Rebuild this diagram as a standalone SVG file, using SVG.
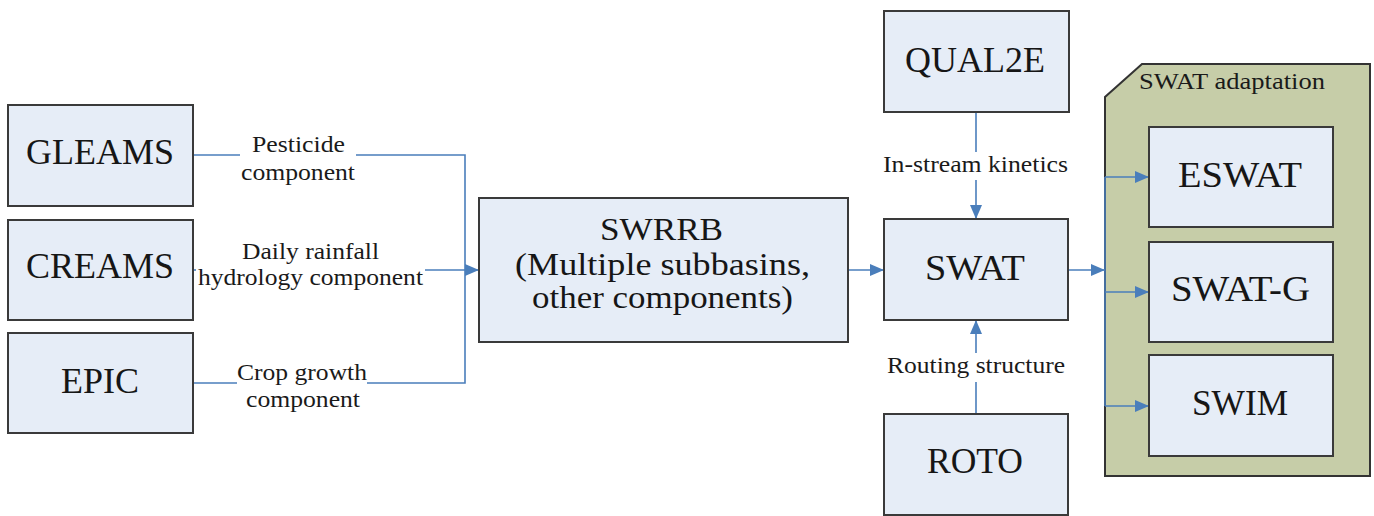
<svg xmlns="http://www.w3.org/2000/svg" width="1374" height="516" viewBox="0 0 1374 516">
  <style>
    .box { fill: #e6edf7; stroke: #3a3a3a; stroke-width: 2; }
    .frame { fill: #c6cda8; stroke: #333333; stroke-width: 2; }
    text { font-family: 'Liberation Serif', 'Times New Roman', Times, serif; }
    .big { font-size: 35px; fill: #161616; }
    .mid { font-size: 31px; fill: #161616; }
    .lbl { font-size: 24px; fill: #1a1a1a; }
    .wire { fill: none; stroke: #4a7ebb; stroke-width: 1.6; }
    .arrow { fill: none; stroke: #4a7ebb; stroke-width: 1.6; marker-end: url(#tip); }
  </style>
  <defs>
    <marker id="tip" markerUnits="userSpaceOnUse" markerWidth="15" markerHeight="14" refX="14" refY="7" orient="auto">
      <path d="M0,1 L14,7 L0,13 Z" fill="#4a7ebb"/>
    </marker>
  </defs>

  <!-- adaptation container (drawn first so the inner models sit on top) -->
  <g id="swat-adaptation">
    <path class="frame" d="M1142,64 H1370 V476 H1105 V97 Z"/>
    <text class="lbl" x="1139" y="89" textLength="186" lengthAdjust="spacingAndGlyphs">SWAT adaptation</text>
  </g>

  <g id="connectors">
    <!-- GLEAMS / CREAMS / EPIC into SWRRB -->
    <path class="wire" d="M193,155 H240"/>
    <path class="wire" d="M356,155 H465 V383 H367"/>
    <path class="wire" d="M237,383 H193"/>
    <path class="wire" d="M193,270 H196"/>
    <path class="arrow" d="M425,270 H479"/>
    <!-- SWRRB to SWAT -->
    <path class="arrow" d="M848,270 H884"/>
    <!-- QUAL2E down to SWAT -->
    <path class="wire" d="M976,112 V152"/>
    <path class="arrow" d="M976,180 V219"/>
    <!-- ROTO up to SWAT -->
    <path class="wire" d="M976,414 V382"/>
    <path class="arrow" d="M976,353 V320"/>
    <!-- SWAT out to the adaptations -->
    <path class="arrow" d="M1068,270 H1105"/>
    <path class="wire" d="M1105,177 V406"/>
    <path class="arrow" d="M1105,177 H1149"/>
    <path class="arrow" d="M1105,292 H1149"/>
    <path class="arrow" d="M1105,406 H1149"/>
  </g>

  <g id="connector-labels">
    <text class="lbl" x="252" y="152" textLength="93" lengthAdjust="spacingAndGlyphs">Pesticide</text>
    <text class="lbl" x="241" y="180" textLength="114" lengthAdjust="spacingAndGlyphs">component</text>
    <text class="lbl" x="242" y="259" textLength="137" lengthAdjust="spacingAndGlyphs">Daily rainfall</text>
    <text class="lbl" x="198" y="285" textLength="225" lengthAdjust="spacingAndGlyphs">hydrology component</text>
    <text class="lbl" x="237" y="380" textLength="130" lengthAdjust="spacingAndGlyphs">Crop growth</text>
    <text class="lbl" x="246" y="407" textLength="114" lengthAdjust="spacingAndGlyphs">component</text>
    <text class="lbl" x="883" y="172" textLength="185" lengthAdjust="spacingAndGlyphs">In-stream kinetics</text>
    <text class="lbl" x="887" y="373" textLength="178" lengthAdjust="spacingAndGlyphs">Routing structure</text>
  </g>

  <g id="gleams">
    <rect class="box" x="8" y="105" width="185" height="101"/>
    <text class="big" x="26" y="164" textLength="148" lengthAdjust="spacingAndGlyphs">GLEAMS</text>
  </g>
  <g id="creams">
    <rect class="box" x="8" y="220" width="185" height="100"/>
    <text class="big" x="26" y="278" textLength="148" lengthAdjust="spacingAndGlyphs">CREAMS</text>
  </g>
  <g id="epic">
    <rect class="box" x="8" y="333" width="185" height="100"/>
    <text class="big" x="61" y="393" textLength="78" lengthAdjust="spacingAndGlyphs">EPIC</text>
  </g>

  <g id="swrrb">
    <rect class="box" x="479" y="198" width="369" height="144"/>
    <text class="mid" x="600" y="240" textLength="123" lengthAdjust="spacingAndGlyphs">SWRRB</text>
    <text class="mid" x="515" y="275" textLength="295" lengthAdjust="spacingAndGlyphs">(Multiple subbasins,</text>
    <text class="mid" x="532" y="308" textLength="261" lengthAdjust="spacingAndGlyphs">other components)</text>
  </g>

  <g id="qual2e">
    <rect class="box" x="884" y="11" width="185" height="101"/>
    <text class="big" x="905" y="72" textLength="140" lengthAdjust="spacingAndGlyphs">QUAL2E</text>
  </g>
  <g id="swat">
    <rect class="box" x="884" y="219" width="184" height="101"/>
    <text class="big" x="925" y="280" textLength="100" lengthAdjust="spacingAndGlyphs">SWAT</text>
  </g>
  <g id="roto">
    <rect class="box" x="884" y="414" width="184" height="101"/>
    <text class="big" x="927" y="473" textLength="96" lengthAdjust="spacingAndGlyphs">ROTO</text>
  </g>

  <g id="eswat">
    <rect class="box" x="1149" y="127" width="184" height="100"/>
    <text class="big" x="1178" y="187" textLength="124" lengthAdjust="spacingAndGlyphs">ESWAT</text>
  </g>
  <g id="swat-g">
    <rect class="box" x="1149" y="242" width="184" height="100"/>
    <text class="big" x="1171" y="301" textLength="139" lengthAdjust="spacingAndGlyphs">SWAT-G</text>
  </g>
  <g id="swim">
    <rect class="box" x="1149" y="355" width="184" height="101"/>
    <text class="big" x="1192" y="415" textLength="96" lengthAdjust="spacingAndGlyphs">SWIM</text>
  </g>
</svg>
